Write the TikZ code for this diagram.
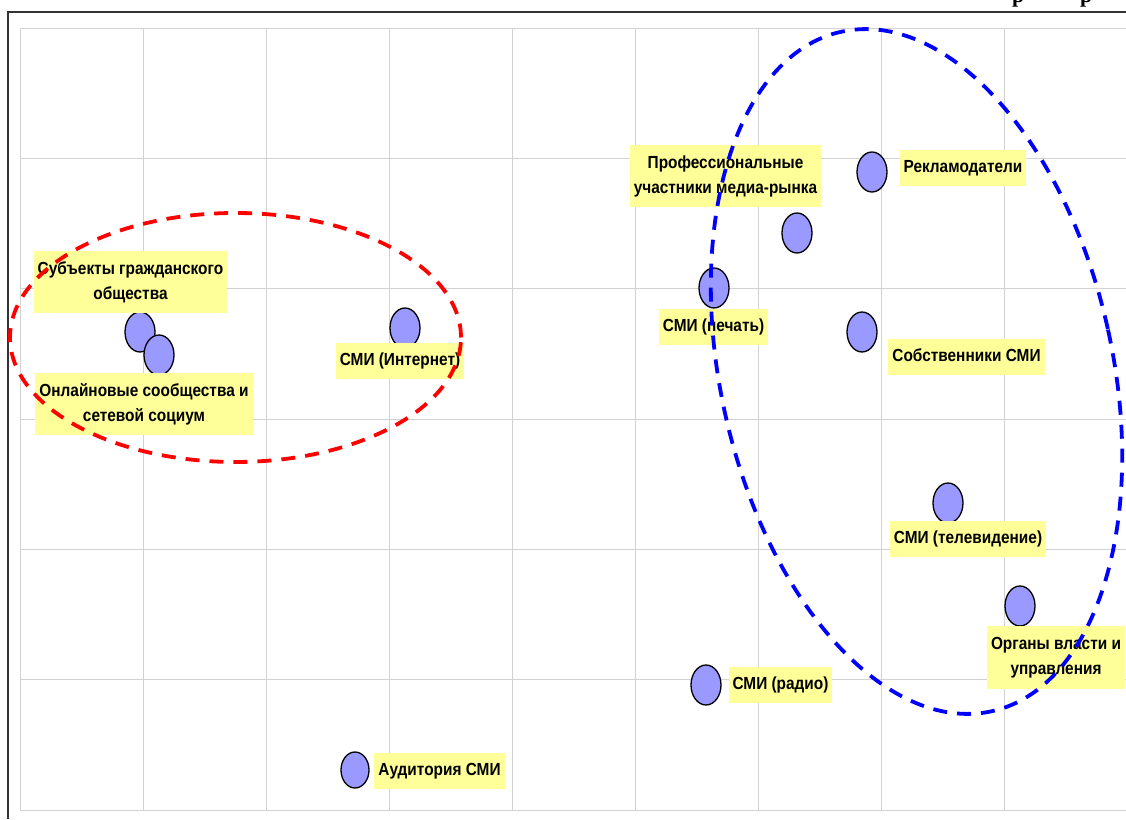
\documentclass[tikz,border=0pt]{standalone}
\usepackage{fontspec}
\usetikzlibrary{shapes.geometric}
\newfontfamily\lblfont{Liberation Sans}[FakeStretch=0.88]
\newfontfamily\headfont{Liberation Serif}
\definecolor{labelyellow}{HTML}{FFFF99}
\definecolor{dotblue}{HTML}{9999FF}
\definecolor{gridgray}{HTML}{D2D2D2}
\definecolor{framegray}{HTML}{333333}
\begin{document}
\begin{tikzpicture}[x=1pt,y=1pt,
  gridline/.style={draw=gridgray, line width=0.9pt},
  frameline/.style={draw=framegray, line width=1.6pt},
  dot/.style={ellipse, draw=black, fill=dotblue, line width=1.3pt,
    minimum width=30pt, minimum height=40pt, inner sep=0pt},
  lblbase/.style={fill=labelyellow, inner xsep=4pt, inner ysep=0pt,
    font=\lblfont\bfseries\fontsize{17.5}{25}\selectfont, align=center},
  lbl/.style={lblbase, text height=13pt, text depth=4pt, minimum height=36pt},
  lbltwo/.style={lblbase, minimum height=62pt},
  groupline/.style={line width=3.8pt, dash pattern=on 14pt off 10pt},
]
\useasboundingbox (0,0) rectangle (1126,819);

% plot grid
\foreach \k in {0,...,9}
  \draw[gridline] (20+123*\k,9) -- (20+123*\k,791);
\foreach \k in {0,...,6}
  \draw[gridline] (20,791-130.33*\k) -- (1126,791-130.33*\k);

% outer frame
\draw[frameline] (8,0) -- (8,807) -- (1126,807);
\node[font=\headfont\bfseries\fontsize{22}{24}\selectfont, anchor=base west, inner sep=0pt] (hdA) at (1012,816) {р};
\node[font=\headfont\bfseries\fontsize{22}{24}\selectfont, anchor=base west, inner sep=0pt] (hdB) at (1080,816) {р};

% actors
\node[dot] (c1) at (140,487) {};
\node[dot] (c2) at (159,464) {};
\node[dot] (c3) at (405,491) {};
\node[dot] (c4) at (797,586) {};
\node[dot] (c5) at (714,531) {};
\node[dot] (c6) at (872,647) {};
\node[dot] (c7) at (862,487) {};
\node[dot] (c8) at (948,316) {};
\node[dot] (c9) at (1020,213) {};
\node[dot] (c10) at (706,134) {};
\node[dot, minimum width=28pt, minimum height=36pt] (c11) at (355,49) {};

% labels
\node[lbltwo] (lA) at (130.5,537) {Субъекты гражданского\\общества};
\node[lbltwo] (lB) at (144,415) {Онлайновые сообщества и\\сетевой социум};
\node[lbl] (lC) at (400,457.5) {СМИ (Интернет)};
\node[lbltwo] (lD) at (725.5,643) {Профессиональные\\участники медиа-рынка};
\node[lbl] (lE) at (713.5,492) {СМИ (печать)};
\node[lbl] (lF) at (963,651) {Рекламодатели};
\node[lbl] (lG) at (966.5,461.5) {Собственники СМИ};
\node[lbl] (lH) at (968,280) {СМИ (телевидение)};
\node[lbltwo] (lI) at (1056,161.5) {Органы власти и\\управления};
\node[lbl] (lJ) at (780.5,134) {СМИ (радио)};
\node[lbl] (lK) at (439.5,48.5) {Аудитория СМИ};

% groupings
\draw[groupline, draw=red] (235.5,481.5) ellipse [x radius=225.5, y radius=124.5];
\draw[groupline, draw=blue, rotate around={12.5:(916.5,447.5)}] (916.5,447.5) ellipse [x radius=196, y radius=348];
\end{tikzpicture}
\end{document}
